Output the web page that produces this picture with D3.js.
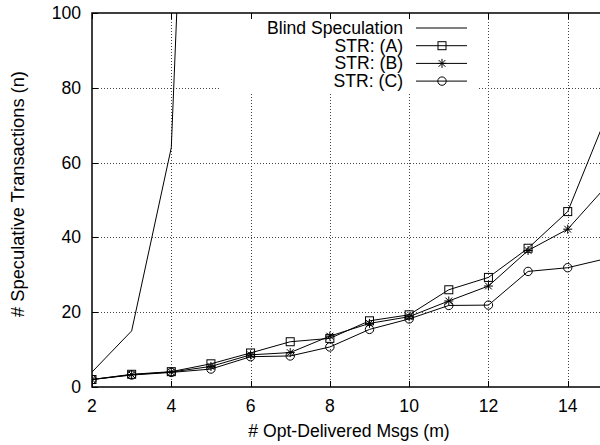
<html>
<head>
<script src='https://d3js.org/d3.v7.min.js'></script>
<style>
  body { margin: 0; background: #fff; }
  text { font-family: 'Liberation Sans', Arial, sans-serif; fill: #000; }
</style>
</head>
<body>
<script type='text/javascript'>
  'use strict';

  // x values (# opt-delivered msgs)
  var msgs = [2, 3, 4, 5, 6, 7, 8, 9, 10, 11, 12, 13, 14, 15];
  var blindMsgs = [2, 3, 4, 5, 6];
  var blindSpec = [4, 15, 64, 325, 1956];
  var strA = [2, 3.4, 4.1, 6.2, 9.1, 12.1, 13.0, 17.7, 19.3, 26.0, 29.3, 37.1, 46.9, 73];
  var strB = [2, 3.3, 4.0, 5.5, 8.6, 9.2, 13.6, 17.0, 18.8, 23.0, 27.0, 36.5, 42.2, 54];
  var strC = [2, 3.2, 3.9, 4.8, 8.1, 8.3, 10.7, 15.4, 18.2, 21.8, 21.9, 30.9, 31.9, 34.4];
  var xTicks = [2, 4, 6, 8, 10, 12, 14, 16];
  var xTickLabels = ['2', '4', '6', '8', '10', '12', '14'];
  var yTicks = [0, 20, 40, 60, 80, 100];
  var legendNames = ['Blind Speculation', 'STR: (A)', 'STR: (B)', 'STR: (C)'];

  var W = 600, H = 445;
  var pLeft = 92, pRight = 647, pTop = 13, pBottom = 387;
  var fs = '17.6px';

  var x = d3.scaleLinear().domain([2, 16]).range([pLeft, pRight]);
  var y = d3.scaleLinear().domain([0, 100]).range([pBottom, pTop]);

  var svg = d3.select('body')
              .append('svg')
                .attr('width', W)
                .attr('height', H);

  svg.append('defs').append('clipPath').attr('id', 'plotclip')
    .append('rect')
      .attr('x', pLeft).attr('y', pTop)
      .attr('width', pRight - pLeft).attr('height', pBottom - pTop);

  // grid
  var grid = svg.append('g')
      .attr('stroke', '#444')
      .attr('stroke-width', 1)
      .attr('stroke-dasharray', '1,2');
  grid.selectAll('line.gx')
    .data(xTicks.filter(function (d) { return d > 2 && d < 16; }))
    .enter().append('line')
      .attr('x1', function (d) { return Math.round(x(d)) + 0.5; })
      .attr('x2', function (d) { return Math.round(x(d)) + 0.5; })
      .attr('y1', pTop).attr('y2', pBottom);
  grid.selectAll('line.gy')
    .data(yTicks.filter(function (d) { return d > 0 && d < 100; }))
    .enter().append('line')
      .attr('x1', pLeft).attr('x2', pRight)
      .attr('y1', function (d) { return Math.round(y(d)) + 0.5; })
      .attr('y2', function (d) { return Math.round(y(d)) + 0.5; });

  // key area hides the grid
  svg.append('rect')
    .attr('x', 220).attr('y', pTop + 1)
    .attr('width', 258).attr('height', 78)
    .attr('fill', '#fff');

  // ticks
  var ticks = svg.append('g').attr('stroke', '#000').attr('stroke-width', 1);
  xTicks.forEach(function (d) {
    var px = Math.round(x(d)) + 0.5;
    ticks.append('line').attr('x1', px).attr('x2', px).attr('y1', pBottom).attr('y2', pBottom - 6);
    ticks.append('line').attr('x1', px).attr('x2', px).attr('y1', pTop).attr('y2', pTop + 6);
  });
  yTicks.forEach(function (d) {
    var py = Math.round(y(d)) + 0.5;
    ticks.append('line').attr('x1', pLeft).attr('x2', pLeft + 6).attr('y1', py).attr('y2', py);
  });

  // border
  svg.append('rect')
    .attr('x', pLeft).attr('y', pTop)
    .attr('width', pRight - pLeft).attr('height', pBottom - pTop)
    .attr('fill', 'none')
    .attr('stroke', '#000')
    .attr('stroke-width', 1.5);

  // tick labels
  svg.selectAll('text.xt')
    .data(xTickLabels)
    .enter().append('text')
      .attr('x', function (d) { return x(+d); })
      .attr('y', 412)
      .attr('text-anchor', 'middle')
      .style('font-size', fs)
      .text(function (d) { return d; });
  svg.selectAll('text.yt')
    .data(yTicks)
    .enter().append('text')
      .attr('x', 81)
      .attr('y', function (d) { return y(d) + 6; })
      .attr('text-anchor', 'end')
      .style('font-size', fs)
      .text(function (d) { return d; });

  // axis titles
  svg.append('text')
    .attr('x', 349).attr('y', 437)
    .attr('text-anchor', 'middle')
    .style('font-size', fs)
    .text('# Opt-Delivered Msgs (m)');
  svg.append('text')
    .attr('transform', 'translate(24,194) rotate(-90)')
    .attr('text-anchor', 'middle')
    .style('font-size', '18.3px')
    .text('# Speculative Transactions (n)');

  // markers
  function drawMarker(g, kind, cx, cy) {
    if (kind === 'square') {
      g.append('rect')
        .attr('x', cx - 4).attr('y', cy - 4)
        .attr('width', 8).attr('height', 8)
        .attr('fill', 'none').attr('stroke', '#000');
    } else if (kind === 'star') {
      var s = 4.5;
      g.append('path')
        .attr('d', 'M' + (cx - s) + ',' + cy + 'H' + (cx + s) +
                   'M' + cx + ',' + (cy - s) + 'V' + (cy + s) +
                   'M' + (cx - s * 0.75) + ',' + (cy - s * 0.75) + 'L' + (cx + s * 0.75) + ',' + (cy + s * 0.75) +
                   'M' + (cx - s * 0.75) + ',' + (cy + s * 0.75) + 'L' + (cx + s * 0.75) + ',' + (cy - s * 0.75))
        .attr('stroke', '#000').attr('fill', 'none');
    } else if (kind === 'circle') {
      g.append('circle')
        .attr('cx', cx).attr('cy', cy).attr('r', 4.2)
        .attr('fill', 'none').attr('stroke', '#000');
    }
  }

  var line = d3.line()
    .x(function (d) { return x(d[0]); })
    .y(function (d) { return y(d[1]); });

  var plot = svg.append('g').attr('clip-path', 'url(#plotclip)');

  var series = [
    { xs: blindMsgs, ys: blindSpec, marker: null },
    { xs: msgs, ys: strA, marker: 'square' },
    { xs: msgs, ys: strB, marker: 'star' },
    { xs: msgs, ys: strC, marker: 'circle' }
  ];

  series.forEach(function (s) {
    var pts = s.xs.map(function (v, i) { return [v, s.ys[i]]; });
    plot.append('path')
      .datum(pts)
      .attr('d', line)
      .attr('fill', 'none')
      .attr('stroke', '#000')
      .attr('stroke-width', 1);
    if (s.marker) {
      pts.forEach(function (p) { drawMarker(plot, s.marker, x(p[0]), y(p[1])); });
    }
  });

  // key
  var key = svg.append('g');
  legendNames.forEach(function (name, i) {
    var cy = 28 + i * 17.7;
    key.append('text')
      .attr('x', 403).attr('y', cy + 6)
      .attr('text-anchor', 'end')
      .style('font-size', fs)
      .text(name);
    key.append('line')
      .attr('x1', 416).attr('x2', 467)
      .attr('y1', cy).attr('y2', cy)
      .attr('stroke', '#000').attr('stroke-width', 1);
    if (series[i].marker) drawMarker(key, series[i].marker, 442, cy);
  });
</script>
</body>
</html>
